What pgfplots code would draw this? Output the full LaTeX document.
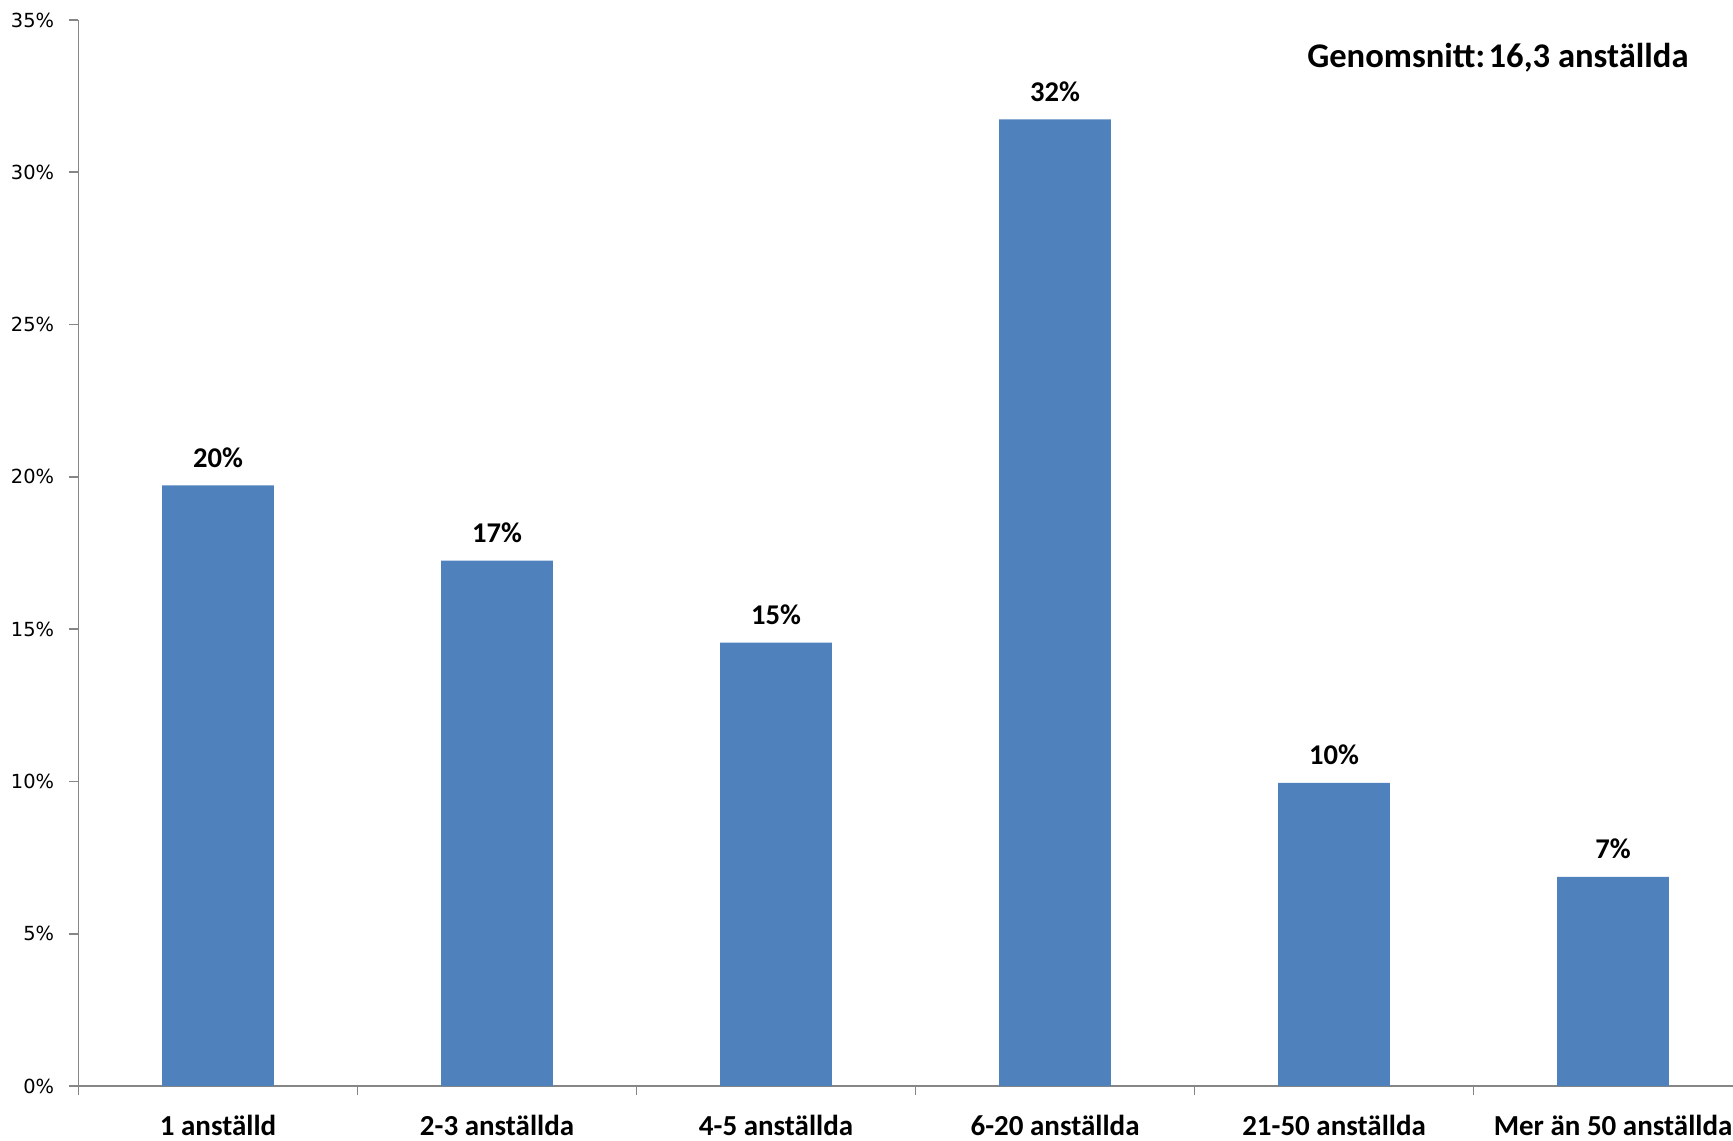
\documentclass[border=0pt]{standalone}
\usepackage{pgfplots}
\pgfplotsset{compat=1.18}
\usepackage{fontspec}
\setmainfont{Carlito}
\newfontfamily\dejavu{DejaVu Sans}
\definecolor{barblue}{HTML}{4F81BD}
\definecolor{axgray}{HTML}{868686}
\begin{document}
\begin{tikzpicture}
\useasboundingbox (-39.25pt,-27pt) rectangle (827.25pt,543pt);
\begin{axis}[
  at={(0pt,0pt)}, anchor=south west,
  scale only axis, width=827.25pt, height=533pt,
  xmin=-0.5, xmax=5.43, ymin=0, ymax=35,
  axis x line*=bottom, axis y line*=left,
  axis line style={axgray, line width=0.9pt},
  tick style={axgray, line width=0.9pt},
  tick align=outside,
  ytick={0,5,...,35},
  major tick length=4.5pt,
  yticklabel={\pgfmathprintnumber{\tick}\%},
  yticklabel style={font=\dejavu\fontsize{9.7}{11}\selectfont, text=black, inner sep=0pt, anchor=east, xshift=-7.5pt},
  /pgf/number format/assume math mode=true,
  xtick={0,1,2,3,4,5},
  xticklabels={1 anställd, 2-3 anställda, 4-5 anställda, 6-20 anställda, 21-50 anställda, Mer än 50 anställda},
  xticklabel style={font=\bfseries\fontsize{14.5}{16}\selectfont, text=black, inner sep=0pt, anchor=north, yshift=-10pt},
  x tick style={draw=none},
  minor xtick={-0.5,0.5,1.5,2.5,3.5,4.5},
  minor x tick style={draw=axgray, line width=0.9pt},
  minor tick length=4.5pt,
  ybar, bar width=0.4,
  clip=false,
  nodes near coords={\pgfmathprintnumber[fixed,precision=0]{\pgfplotspointmeta}\%},
  nodes near coords style={font=\bfseries\fontsize{14.3}{16}\selectfont, text=black, inner sep=0pt, anchor=base, yshift=9pt},
]
\addplot[fill=barblue, draw=none] coordinates {(0,19.72) (1,17.25) (2,14.56) (3,31.74) (4,9.95) (5,6.87)};
\end{axis}
\node[anchor=east, font=\bfseries\fontsize{17.3}{19}\selectfont] at (808.5pt,514pt) {Genomsnitt:\hspace{0.1em}16,3 anställda};
\end{tikzpicture}
\end{document}
